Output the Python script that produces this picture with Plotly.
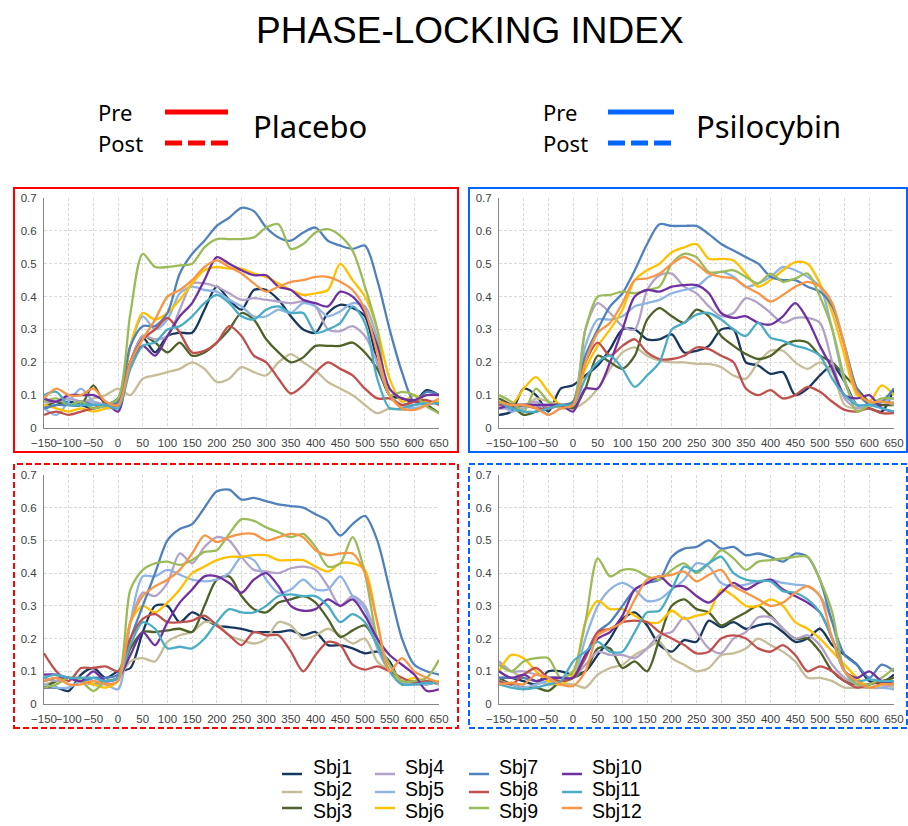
import plotly.graph_objects as go

W, H = 908, 826

# ---------------- data ----------------
time_ms = [-150, -125, -100, -75, -50, -25, 0, 25, 50, 75, 100, 125, 150, 175, 200, 225,
           250, 275, 300, 325, 350, 375, 400, 425, 450, 475, 500, 525, 550, 575, 600, 625, 650]

subjects = ['Sbj1', 'Sbj2', 'Sbj3', 'Sbj4', 'Sbj5', 'Sbj6',
            'Sbj7', 'Sbj8', 'Sbj9', 'Sbj10', 'Sbj11', 'Sbj12']
subject_colors = ['#17375E', '#C4BD97', '#4F6228', '#B3A2C7', '#8EB4E3', '#FFC000',
                  '#4F81BD', '#C0504D', '#9BBB59', '#7030A0', '#4BACC6', '#F79646']

x_ticks = list(range(-150, 651, 50))
y_ticks = [0, 0.1, 0.2, 0.3, 0.4, 0.5, 0.6, 0.7]
y_tick_labels = ['0', '0.1', '0.2', '0.3', '0.4', '0.5', '0.6', '0.7']

# Placebo - Pre (rows = Sbj1..Sbj12)
placebo_pre = [
    [0.06,0.07,0.08,0.07,0.06,0.07,0.09,0.2,0.275,0.23,0.28,0.29,0.29,0.36,0.43,0.39,0.36,0.42,0.42,0.39,0.34,0.3,0.29,0.35,0.375,0.365,0.34,0.2,0.1,0.09,0.08,0.115,0.1],
    [0.07,0.08,0.09,0.08,0.09,0.1,0.12,0.1,0.15,0.16,0.17,0.18,0.2,0.18,0.14,0.15,0.185,0.17,0.16,0.2,0.225,0.2,0.175,0.14,0.12,0.1,0.07,0.045,0.06,0.055,0.06,0.07,0.08],
    [0.06,0.08,0.07,0.07,0.13,0.07,0.07,0.2,0.28,0.26,0.23,0.26,0.22,0.23,0.26,0.3,0.35,0.33,0.27,0.23,0.2,0.215,0.25,0.25,0.25,0.26,0.23,0.18,0.1,0.07,0.08,0.07,0.045],
    [0.08,0.08,0.09,0.08,0.08,0.07,0.07,0.2,0.28,0.27,0.28,0.36,0.44,0.44,0.43,0.41,0.39,0.395,0.39,0.385,0.38,0.385,0.37,0.3,0.295,0.31,0.28,0.2,0.1,0.07,0.07,0.08,0.08],
    [0.06,0.04,0.08,0.12,0.08,0.06,0.07,0.25,0.34,0.3,0.33,0.41,0.43,0.42,0.415,0.39,0.37,0.34,0.34,0.36,0.35,0.38,0.37,0.34,0.355,0.38,0.37,0.27,0.1,0.07,0.06,0.07,0.08],
    [0.07,0.06,0.05,0.06,0.05,0.06,0.07,0.25,0.35,0.33,0.35,0.39,0.44,0.48,0.49,0.485,0.485,0.47,0.46,0.44,0.42,0.405,0.41,0.42,0.5,0.45,0.4,0.3,0.15,0.08,0.1,0.08,0.08],
    [0.06,0.07,0.07,0.08,0.07,0.07,0.08,0.25,0.31,0.31,0.35,0.47,0.53,0.57,0.615,0.64,0.67,0.66,0.61,0.58,0.57,0.595,0.61,0.57,0.555,0.545,0.555,0.45,0.3,0.17,0.08,0.11,0.1],
    [0.04,0.05,0.04,0.05,0.06,0.07,0.07,0.2,0.27,0.3,0.335,0.29,0.23,0.235,0.26,0.31,0.28,0.22,0.2,0.15,0.105,0.13,0.17,0.2,0.18,0.16,0.12,0.09,0.09,0.07,0.08,0.085,0.07],
    [0.08,0.09,0.07,0.08,0.06,0.07,0.09,0.35,0.53,0.49,0.49,0.495,0.5,0.55,0.575,0.575,0.575,0.58,0.61,0.62,0.545,0.56,0.595,0.605,0.585,0.54,0.43,0.3,0.1,0.11,0.1,0.065,0.045],
    [0.09,0.08,0.1,0.1,0.1,0.08,0.05,0.2,0.25,0.22,0.28,0.34,0.38,0.45,0.52,0.5,0.48,0.465,0.465,0.43,0.42,0.39,0.38,0.37,0.415,0.4,0.35,0.25,0.12,0.09,0.085,0.1,0.1],
    [0.1,0.11,0.07,0.07,0.07,0.07,0.06,0.18,0.25,0.26,0.3,0.31,0.34,0.38,0.405,0.38,0.34,0.33,0.36,0.37,0.35,0.35,0.29,0.3,0.32,0.37,0.32,0.15,0.06,0.06,0.07,0.075,0.075],
    [0.09,0.12,0.1,0.1,0.12,0.08,0.07,0.2,0.27,0.33,0.4,0.42,0.45,0.49,0.51,0.49,0.47,0.44,0.415,0.43,0.445,0.45,0.46,0.46,0.445,0.42,0.36,0.23,0.1,0.06,0.055,0.07,0.09],
]

# Psilocybin - Pre
psilocybin_pre = [
    [0.04,0.05,0.12,0.1,0.05,0.12,0.13,0.16,0.19,0.24,0.3,0.3,0.27,0.27,0.285,0.23,0.235,0.25,0.3,0.3,0.2,0.19,0.165,0.17,0.1,0.12,0.16,0.19,0.14,0.07,0.06,0.05,0.12],
    [0.08,0.07,0.06,0.09,0.08,0.07,0.06,0.08,0.12,0.18,0.23,0.245,0.22,0.205,0.2,0.2,0.195,0.195,0.185,0.16,0.15,0.2,0.235,0.235,0.2,0.18,0.2,0.17,0.07,0.06,0.07,0.07,0.08],
    [0.09,0.07,0.04,0.05,0.06,0.07,0.06,0.12,0.22,0.2,0.18,0.22,0.33,0.365,0.34,0.32,0.36,0.34,0.28,0.25,0.225,0.21,0.22,0.25,0.265,0.26,0.22,0.2,0.16,0.12,0.08,0.07,0.07],
    [0.06,0.06,0.07,0.08,0.06,0.07,0.08,0.3,0.38,0.35,0.31,0.3,0.42,0.465,0.47,0.43,0.41,0.37,0.34,0.35,0.395,0.38,0.35,0.32,0.335,0.335,0.32,0.2,0.09,0.06,0.07,0.08,0.07],
    [0.08,0.05,0.06,0.07,0.04,0.06,0.08,0.25,0.33,0.33,0.34,0.37,0.38,0.39,0.41,0.42,0.43,0.46,0.475,0.46,0.43,0.44,0.46,0.49,0.48,0.46,0.43,0.3,0.14,0.07,0.07,0.08,0.09],
    [0.08,0.07,0.12,0.155,0.11,0.07,0.08,0.18,0.25,0.3,0.36,0.45,0.48,0.5,0.535,0.55,0.56,0.515,0.515,0.51,0.47,0.43,0.45,0.48,0.505,0.5,0.44,0.35,0.22,0.1,0.08,0.13,0.1],
    [0.08,0.06,0.07,0.07,0.07,0.07,0.08,0.22,0.3,0.37,0.41,0.48,0.56,0.62,0.615,0.615,0.615,0.59,0.56,0.54,0.52,0.5,0.46,0.45,0.45,0.43,0.415,0.37,0.25,0.12,0.07,0.08,0.12],
    [0.07,0.07,0.07,0.06,0.06,0.07,0.07,0.2,0.26,0.22,0.25,0.27,0.23,0.21,0.21,0.22,0.245,0.24,0.22,0.2,0.12,0.1,0.115,0.09,0.1,0.125,0.11,0.08,0.055,0.05,0.06,0.045,0.045],
    [0.1,0.08,0.05,0.12,0.08,0.06,0.07,0.3,0.4,0.405,0.415,0.41,0.42,0.43,0.5,0.53,0.52,0.475,0.475,0.48,0.46,0.44,0.47,0.445,0.455,0.47,0.4,0.3,0.15,0.05,0.07,0.09,0.09],
    [0.06,0.07,0.07,0.07,0.07,0.07,0.05,0.12,0.12,0.2,0.3,0.4,0.42,0.415,0.43,0.435,0.435,0.41,0.35,0.335,0.34,0.32,0.315,0.34,0.38,0.33,0.25,0.18,0.1,0.09,0.1,0.06,0.05],
    [0.08,0.06,0.05,0.05,0.06,0.07,0.07,0.15,0.2,0.22,0.18,0.125,0.16,0.2,0.3,0.32,0.345,0.35,0.33,0.3,0.28,0.32,0.275,0.265,0.25,0.24,0.22,0.15,0.1,0.07,0.07,0.06,0.05],
    [0.08,0.07,0.07,0.06,0.04,0.06,0.07,0.2,0.29,0.32,0.38,0.45,0.455,0.47,0.5,0.52,0.5,0.47,0.46,0.455,0.43,0.41,0.385,0.405,0.43,0.445,0.43,0.38,0.25,0.11,0.08,0.08,0.075],
]

# Placebo - Post
placebo_post = [
    [0.05,0.05,0.04,0.09,0.11,0.08,0.1,0.11,0.22,0.3,0.3,0.25,0.28,0.26,0.24,0.235,0.23,0.22,0.22,0.22,0.225,0.21,0.22,0.18,0.18,0.17,0.155,0.16,0.13,0.06,0.07,0.07,0.06],
    [0.06,0.07,0.08,0.08,0.07,0.07,0.08,0.13,0.14,0.13,0.19,0.21,0.22,0.25,0.245,0.21,0.195,0.185,0.2,0.25,0.24,0.2,0.21,0.23,0.21,0.185,0.2,0.13,0.1,0.06,0.07,0.07,0.06],
    [0.05,0.07,0.08,0.07,0.06,0.07,0.08,0.17,0.22,0.22,0.225,0.23,0.22,0.3,0.38,0.39,0.33,0.29,0.28,0.31,0.32,0.33,0.31,0.26,0.205,0.225,0.24,0.18,0.1,0.07,0.07,0.06,0.07],
    [0.08,0.07,0.08,0.07,0.08,0.07,0.08,0.25,0.34,0.33,0.37,0.46,0.43,0.48,0.51,0.5,0.45,0.41,0.405,0.4,0.415,0.42,0.41,0.36,0.3,0.33,0.3,0.2,0.12,0.07,0.06,0.07,0.07],
    [0.06,0.05,0.05,0.07,0.06,0.06,0.045,0.25,0.39,0.39,0.41,0.395,0.38,0.375,0.38,0.4,0.45,0.44,0.38,0.34,0.35,0.38,0.35,0.35,0.39,0.33,0.29,0.17,0.1,0.07,0.06,0.06,0.07],
    [0.07,0.08,0.08,0.07,0.06,0.05,0.07,0.25,0.3,0.28,0.31,0.35,0.4,0.42,0.44,0.45,0.45,0.455,0.455,0.44,0.44,0.44,0.42,0.405,0.43,0.43,0.41,0.25,0.1,0.07,0.08,0.07,0.07],
    [0.07,0.08,0.08,0.07,0.08,0.08,0.09,0.2,0.3,0.4,0.5,0.535,0.55,0.6,0.65,0.655,0.625,0.63,0.62,0.61,0.605,0.6,0.58,0.56,0.515,0.55,0.575,0.5,0.35,0.2,0.12,0.1,0.09],
    [0.155,0.1,0.07,0.11,0.11,0.115,0.1,0.2,0.26,0.275,0.25,0.25,0.255,0.27,0.24,0.21,0.18,0.22,0.21,0.21,0.16,0.1,0.15,0.19,0.18,0.12,0.105,0.115,0.1,0.08,0.065,0.07,0.065],
    [0.05,0.06,0.08,0.07,0.04,0.07,0.08,0.35,0.41,0.43,0.435,0.425,0.44,0.465,0.47,0.52,0.565,0.56,0.54,0.525,0.51,0.52,0.48,0.42,0.43,0.51,0.4,0.2,0.12,0.07,0.07,0.08,0.135],
    [0.09,0.09,0.08,0.07,0.1,0.07,0.08,0.15,0.22,0.18,0.25,0.31,0.35,0.39,0.39,0.37,0.34,0.38,0.4,0.36,0.3,0.285,0.29,0.32,0.3,0.32,0.27,0.2,0.15,0.12,0.09,0.04,0.045],
    [0.08,0.09,0.08,0.08,0.08,0.07,0.08,0.18,0.25,0.23,0.17,0.175,0.17,0.2,0.25,0.29,0.28,0.28,0.3,0.33,0.335,0.33,0.33,0.3,0.25,0.275,0.25,0.18,0.1,0.06,0.06,0.065,0.065],
    [0.07,0.08,0.06,0.06,0.07,0.06,0.07,0.25,0.33,0.36,0.38,0.41,0.46,0.515,0.495,0.51,0.52,0.52,0.5,0.51,0.52,0.51,0.47,0.455,0.46,0.46,0.4,0.25,0.1,0.14,0.1,0.08,0.065],
]

# Psilocybin - Post
psilocybin_post = [
    [0.08,0.08,0.07,0.06,0.1,0.1,0.09,0.1,0.15,0.2,0.26,0.28,0.24,0.18,0.16,0.195,0.19,0.255,0.235,0.25,0.23,0.24,0.245,0.22,0.19,0.2,0.23,0.18,0.15,0.12,0.07,0.065,0.09],
    [0.13,0.1,0.08,0.07,0.06,0.06,0.06,0.05,0.09,0.11,0.12,0.15,0.17,0.19,0.14,0.12,0.1,0.11,0.15,0.155,0.17,0.2,0.18,0.16,0.13,0.08,0.08,0.07,0.05,0.05,0.05,0.06,0.05],
    [0.08,0.06,0.05,0.05,0.04,0.07,0.08,0.1,0.17,0.17,0.11,0.13,0.1,0.2,0.3,0.32,0.29,0.28,0.24,0.26,0.28,0.3,0.27,0.23,0.2,0.2,0.16,0.1,0.07,0.06,0.06,0.07,0.08],
    [0.13,0.1,0.1,0.09,0.08,0.07,0.08,0.12,0.16,0.15,0.15,0.14,0.17,0.21,0.22,0.265,0.22,0.17,0.155,0.2,0.22,0.265,0.265,0.23,0.2,0.21,0.18,0.12,0.08,0.06,0.05,0.05,0.06],
    [0.07,0.06,0.05,0.06,0.07,0.07,0.08,0.2,0.3,0.35,0.37,0.35,0.315,0.32,0.35,0.38,0.43,0.42,0.37,0.36,0.365,0.375,0.38,0.37,0.365,0.36,0.33,0.25,0.1,0.06,0.05,0.05,0.045],
    [0.1,0.15,0.14,0.1,0.07,0.06,0.09,0.25,0.315,0.29,0.29,0.27,0.25,0.25,0.285,0.26,0.27,0.28,0.35,0.33,0.3,0.3,0.32,0.3,0.25,0.23,0.2,0.16,0.12,0.08,0.05,0.06,0.07],
    [0.08,0.08,0.08,0.07,0.08,0.08,0.08,0.15,0.22,0.25,0.3,0.35,0.37,0.38,0.45,0.475,0.48,0.5,0.475,0.48,0.455,0.46,0.45,0.435,0.46,0.45,0.38,0.25,0.15,0.12,0.08,0.12,0.1],
    [0.07,0.06,0.09,0.11,0.08,0.07,0.08,0.14,0.22,0.23,0.25,0.255,0.25,0.22,0.2,0.18,0.155,0.16,0.2,0.21,0.2,0.17,0.16,0.18,0.15,0.1,0.115,0.1,0.07,0.05,0.06,0.07,0.06],
    [0.12,0.1,0.13,0.14,0.14,0.08,0.1,0.25,0.445,0.39,0.41,0.41,0.39,0.38,0.41,0.43,0.4,0.43,0.47,0.445,0.41,0.435,0.44,0.445,0.45,0.45,0.38,0.28,0.1,0.06,0.06,0.08,0.11],
    [0.1,0.08,0.09,0.07,0.08,0.08,0.08,0.15,0.2,0.22,0.27,0.35,0.37,0.39,0.36,0.36,0.33,0.31,0.34,0.37,0.35,0.37,0.38,0.35,0.33,0.31,0.28,0.2,0.1,0.08,0.1,0.07,0.07],
    [0.06,0.05,0.045,0.05,0.06,0.07,0.13,0.16,0.19,0.16,0.16,0.22,0.28,0.285,0.35,0.42,0.405,0.43,0.45,0.4,0.38,0.375,0.375,0.345,0.34,0.32,0.28,0.2,0.1,0.07,0.075,0.07,0.07],
    [0.06,0.065,0.06,0.09,0.08,0.06,0.055,0.1,0.21,0.23,0.25,0.32,0.38,0.39,0.395,0.405,0.375,0.395,0.41,0.36,0.34,0.32,0.3,0.31,0.34,0.36,0.33,0.2,0.1,0.07,0.05,0.06,0.06],
]

RED = '#FF0000'
BLUE = '#0066FF'


def fx(p):
    return p / W


def fy(p):
    return 1 - p / H


fig = go.Figure()

# panel: data, axis suffix, plot area (left, right, top, bottom in px)
panels = [
    (placebo_pre, '', (44, 439, 198, 428)),
    (psilocybin_pre, '2', (499, 894, 198, 428)),
    (placebo_post, '3', (44, 439, 475, 704)),
    (psilocybin_post, '4', (499, 894, 475, 704)),
]

tick_font = dict(family='Liberation Sans, Arial', size=11.5, color='#404040')
layout_axes = {}
for data, sfx, (l, r, t, b) in panels:
    for i, name in enumerate(subjects):
        fig.add_trace(go.Scatter(
            x=time_ms, y=data[i], mode='lines', name=name,
            line=dict(color=subject_colors[i], width=2.3, shape='spline', smoothing=0.8),
            xaxis='x' + sfx, yaxis='y' + sfx, showlegend=False,
        ))
    layout_axes['xaxis' + sfx] = dict(
        domain=[fx(l), fx(r)], range=[-150, 650], anchor='y' + sfx, automargin=False,
        tickmode='array', tickvals=x_ticks, tickangle=0,
        showgrid=True, gridcolor='#D9D9D9', griddash='3px,2px', gridwidth=1,
        zeroline=False, showline=True, linecolor='#868686', linewidth=1,
        ticks='', ticklabelstandoff=4, tickfont=tick_font,
    )
    layout_axes['yaxis' + sfx] = dict(
        domain=[fy(b), fy(t)], range=[0, 0.7], anchor='x' + sfx, automargin=False,
        tickmode='array', tickvals=y_ticks, ticktext=y_tick_labels,
        showgrid=True, gridcolor='#D9D9D9', griddash='3px,2px', gridwidth=1,
        zeroline=False, showline=True, linecolor='#868686', linewidth=1,
        ticks='', ticklabelstandoff=4, tickfont=tick_font,
    )

shapes = []
# panel frames
frames = [
    (14, 188, 458, 452, RED, 'solid'),
    (469, 188, 907, 452, BLUE, 'solid'),
    (14, 464, 458, 728, RED, '6px,3px'),
    (469, 464, 907, 728, BLUE, '6px,3px'),
]
for x0, y0, x1, y1, c, d in frames:
    shapes.append(dict(type='rect', xref='paper', yref='paper',
                       x0=fx(x0), x1=fx(x1), y0=fy(y1), y1=fy(y0),
                       line=dict(color=c, width=2, dash=d), fillcolor='rgba(0,0,0,0)'))

# header line keys
header_lines = [
    (165, 228, 112, RED, 'solid'),
    (165, 228, 143, RED, '17px,6px'),
    (608, 674, 112, BLUE, 'solid'),
    (608, 674, 143, BLUE, '17px,6px'),
]
for x0, x1, y, c, d in header_lines:
    shapes.append(dict(type='line', xref='paper', yref='paper',
                       x0=fx(x0), x1=fx(x1), y0=fy(y), y1=fy(y),
                       line=dict(color=c, width=5, dash=d)))

annotations = []
annotations.append(dict(text='PHASE-LOCKING INDEX', x=fx(470), y=fy(30), xref='paper', yref='paper',
                        xanchor='center', yanchor='middle', showarrow=False,
                        font=dict(family='Liberation Sans, Arial', size=37, color='#000000')))

header_texts = [
    ('Pre', 96, 112, 22),
    ('Post', 96, 143.5, 22),
    ('Placebo', 251, 126.5, 31),
    ('Pre', 541, 112, 22),
    ('Post', 541, 143.5, 22),
    ('Psilocybin', 694, 126.5, 31),
]
for txt, x, y, s in header_texts:
    annotations.append(dict(text=txt, x=fx(x), y=fy(y), xref='paper', yref='paper',
                            xanchor='left', yanchor='middle', showarrow=False,
                            font=dict(family='Noto Sans', size=s, color='#000000')))

# bottom legend (4 columns x 3 rows)
col_line_x = [282, 375, 469, 562]
col_text_x = [311, 403, 497, 590]
row_line_y = [774, 792, 808]
row_text_y = [767, 789, 810.5]
for i, name in enumerate(subjects):
    c, rw = divmod(i, 3)
    shapes.append(dict(type='line', xref='paper', yref='paper',
                       x0=fx(col_line_x[c]), x1=fx(col_line_x[c] + 20),
                       y0=fy(row_line_y[rw]), y1=fy(row_line_y[rw]),
                       line=dict(color=subject_colors[i], width=2.5)))
    annotations.append(dict(text=name, x=fx(col_text_x[c]), y=fy(row_text_y[rw]),
                            xref='paper', yref='paper', xanchor='left', yanchor='middle',
                            showarrow=False,
                            font=dict(family='Liberation Sans, Arial', size=19.5, color='#000000')))

fig.update_layout(
    width=W, height=H, margin=dict(l=0, r=0, t=0, b=0, autoexpand=False),
    paper_bgcolor='white', plot_bgcolor='white',
    showlegend=False, shapes=shapes, annotations=annotations,
    **layout_axes,
)

fig.write_html('out.html', config={'displayModeBar': False},
               post_script="document.body.style.margin='0';document.body.style.overflow='hidden';")
